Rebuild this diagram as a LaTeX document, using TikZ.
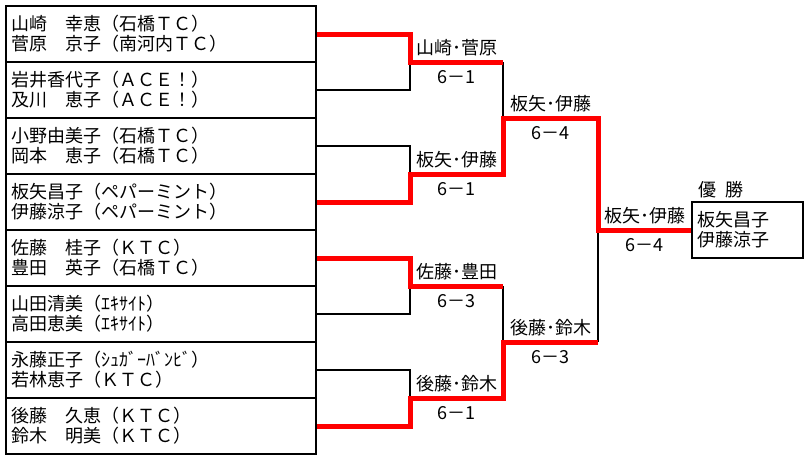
\documentclass[tikz,border=0pt]{standalone}
\usepackage{fontspec}
\setmainfont{Noto Sans CJK JP}
\usetikzlibrary{positioning,calc}

\begin{document}
\begin{tikzpicture}
[x=1pt,y=-1pt,
 player/.style={draw,line width=1.6pt,rectangle,inner xsep=5pt,inner ysep=0pt,text width=300pt,minimum height=56pt,align=left,font=\fontsize{18}{20}\selectfont},
 champ/.style={draw,line width=1.6pt,rectangle,inner xsep=5pt,inner ysep=0pt,text width=101pt,minimum height=56pt,align=left,font=\fontsize{18}{20}\selectfont},
 pair/.style={font=\fontsize{18}{20}\selectfont,yshift=14pt},
 score/.style={font=\fontsize{18}{20}\selectfont,yshift=-15pt},
 lose/.style={line width=1.3pt},
 win/.style={line width=5pt,red}]
\useasboundingbox (0,0) rectangle (811,461);
\draw (161,34) node[player] (p1) {山崎　幸恵（石橋ＴＣ）\\菅原　京子（南河内ＴＣ）};
\draw (161,90) node[player] (p2) {岩井香代子（ＡＣＥ！）\\及川　恵子（ＡＣＥ！）};
\draw (161,146) node[player] (p3) {小野由美子（石橋ＴＣ）\\岡本　恵子（石橋ＴＣ）};
\draw (161,202) node[player] (p4) {板矢昌子（ペパーミント）\\伊藤涼子（ペパーミント）};
\draw (161,258) node[player] (p5) {佐藤　桂子（ＫＴＣ）\\豊田　英子（石橋ＴＣ）};
\draw (161,314) node[player] (p6) {山田清美（ｴｷｻｲﾄ）\\高田恵美（ｴｷｻｲﾄ）};
\draw (161,370) node[player] (p7) {永藤正子（ｼｭｶﾞｰﾊﾞﾝﾋﾞ）\\若林恵子（ＫＴＣ）};
\draw (161,426) node[player] (p8) {後藤　久恵（ＫＴＣ）\\鈴木　明美（ＫＴＣ）};
\draw (747.5,230) node[champ] (w) {板矢昌子\\伊藤涼子};
\draw (721,190) node[font=\fontsize{18}{20}\selectfont] (yu) {優\hspace{0.5em}勝};
\coordinate (m1) at (410,62);
\coordinate (m2) at (410,174);
\coordinate (m3) at (410,286);
\coordinate (m4) at (410,398);
\coordinate (s1) at (503,118);
\coordinate (s2) at (503,342);
\coordinate (f) at (598,230);
\draw[lose](p2.east) -| (m1);
\draw[lose](p3.east) -| (m2);
\draw[lose](p6.east) -| (m3);
\draw[lose](p7.east) -| (m4);
\draw[lose](m1 -| s1) -- (s1);
\draw[lose](m3 -| s2) -- (s2);
\draw[lose](s2 -| f) -- (f);
\draw[win](p1.east) -| (m1) -- (m1 -| s1);
\draw[win](p4.east) -| (m2) -| (s1) -| (f) -- (w.west);
\draw[win](p5.east) -| (m3) -- (m3 -| s2);
\draw[win](p8.east) -| (m4) -| (s2) -- (s2 -| f);
\path (m1) -- (m1 -| s1) node[midway,pair] (n1) {山崎･菅原} node[midway,score] (g1) {6－1};
\path (m2) -- (m2 -| s1) node[midway,pair] (n2) {板矢･伊藤} node[midway,score] (g2) {6－1};
\path (m3) -- (m3 -| s2) node[midway,pair] (n3) {佐藤･豊田} node[midway,score] (g3) {6－3};
\path (m4) -- (m4 -| s2) node[midway,pair] (n4) {後藤･鈴木} node[midway,score] (g4) {6－1};
\path (s1) -- (s1 -| f) node[midway,pair] (n5) {板矢･伊藤} node[midway,score] (g5) {6－4};
\path (s2) -- (s2 -| f) node[midway,pair] (n6) {後藤･鈴木} node[midway,score] (g6) {6－3};
\path (f) -- (w.west) node[midway,pair] (n7) {板矢･伊藤} node[midway,score] (g7) {6－4};
\end{tikzpicture}
\end{document}
